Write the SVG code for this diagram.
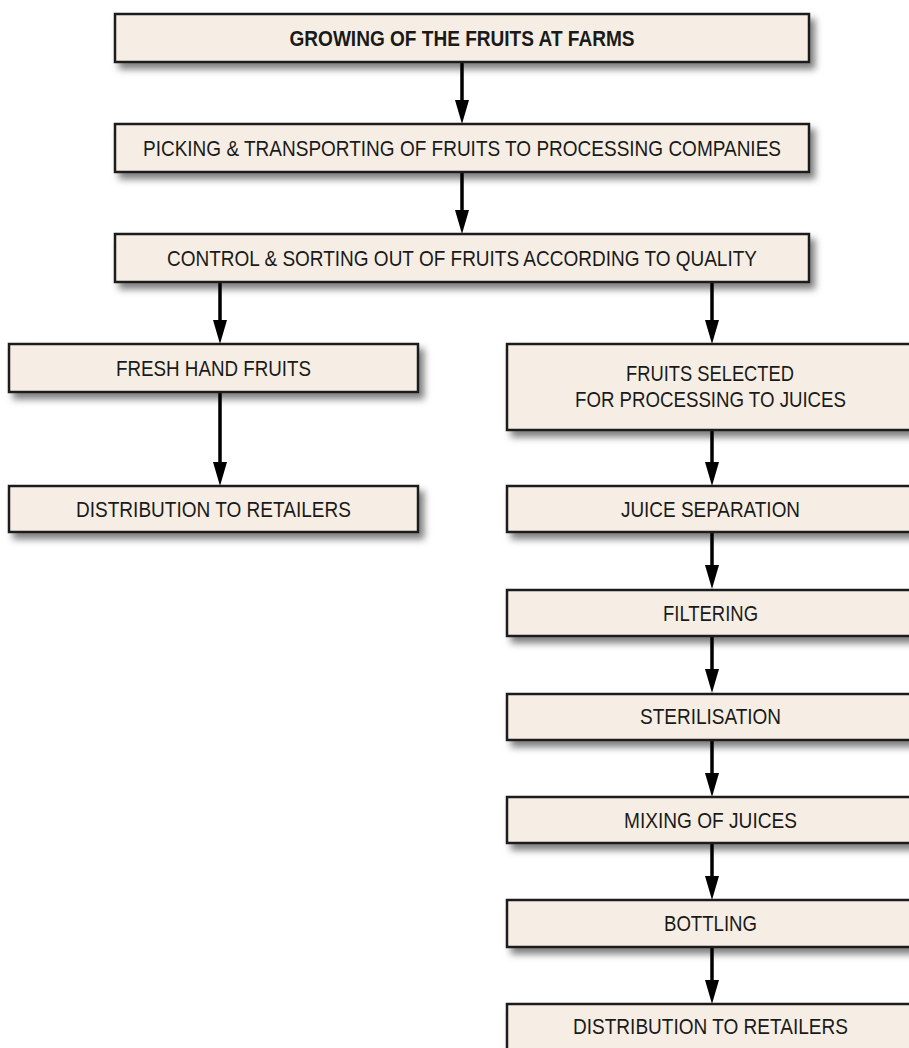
<svg xmlns="http://www.w3.org/2000/svg" width="909" height="1048" viewBox="0 0 909 1048">
<defs>
<filter id="sh" x="-5%" y="-30%" width="115%" height="180%">
<feDropShadow dx="5" dy="6" stdDeviation="3.5" flood-color="#000" flood-opacity="0.5"/>
</filter>
<marker id="ah" markerUnits="userSpaceOnUse" markerWidth="24" markerHeight="14" viewBox="0 0 24 14" refX="2" refY="7" orient="auto">
<path d="M0,0 L24,7 L0,14 Z" fill="#000"/>
</marker>
<style>
.box{fill:#f6eee4;stroke:#1a1a1a;stroke-width:2.5;filter:url(#sh)}
.t{font-family:"Liberation Sans",Arial,sans-serif;font-size:22px;fill:#1a1a1a;text-anchor:middle}
.b{font-weight:bold}
.c{stroke:#000;stroke-width:3.5;fill:none;marker-end:url(#ah)}
</style>
</defs>
<rect width="909" height="1048" fill="#fff"/>
<g id="connectors">
<path class="c" d="M462,62 V102"/>
<path class="c" d="M462,172 V212"/>
<path class="c" d="M220,282 V322"/>
<path class="c" d="M712,282 V322"/>
<path class="c" d="M220,392 V464"/>
<path class="c" d="M712,430 V464"/>
<path class="c" d="M712,532 V567"/>
<path class="c" d="M712,636 V671"/>
<path class="c" d="M712,740 V775"/>
<path class="c" d="M712,843 V878"/>
<path class="c" d="M712,947 V982"/>
</g>
<g id="n1"><rect class="box" x="115" y="14" width="694" height="48"/><text class="t b" x="462" y="45.5" textLength="345" lengthAdjust="spacingAndGlyphs">GROWING OF THE FRUITS AT FARMS</text></g>
<g id="n2"><rect class="box" x="115" y="124" width="694" height="48"/><text class="t" x="462" y="155.5" textLength="638" lengthAdjust="spacingAndGlyphs">PICKING &amp; TRANSPORTING OF FRUITS TO PROCESSING COMPANIES</text></g>
<g id="n3"><rect class="box" x="115" y="234" width="694" height="48"/><text class="t" x="462" y="265.5" textLength="590" lengthAdjust="spacingAndGlyphs">CONTROL &amp; SORTING OUT OF FRUITS ACCORDING TO QUALITY</text></g>
<g id="n4"><rect class="box" x="9" y="344" width="409" height="48"/><text class="t" x="213.5" y="375.5" textLength="195" lengthAdjust="spacingAndGlyphs">FRESH HAND FRUITS</text></g>
<g id="n5"><rect class="box" x="9" y="486" width="409" height="46"/><text class="t" x="213.5" y="516.5" textLength="275" lengthAdjust="spacingAndGlyphs">DISTRIBUTION TO RETAILERS</text></g>
<g id="n6"><rect class="box" x="507" y="344" width="407" height="86"/><text class="t" x="710" y="380.5" textLength="168" lengthAdjust="spacingAndGlyphs">FRUITS SELECTED</text><text class="t" x="710.5" y="406.5" textLength="271" lengthAdjust="spacingAndGlyphs">FOR PROCESSING TO JUICES</text></g>
<g id="n7"><rect class="box" x="507" y="486" width="407" height="46"/><text class="t" x="710.5" y="516.5" textLength="179" lengthAdjust="spacingAndGlyphs">JUICE SEPARATION</text></g>
<g id="n8"><rect class="box" x="507" y="590" width="407" height="46"/><text class="t" x="710.5" y="620.5" textLength="95" lengthAdjust="spacingAndGlyphs">FILTERING</text></g>
<g id="n9"><rect class="box" x="507" y="694" width="407" height="46"/><text class="t" x="710.5" y="723.5" textLength="141" lengthAdjust="spacingAndGlyphs">STERILISATION</text></g>
<g id="n10"><rect class="box" x="507" y="797" width="407" height="46"/><text class="t" x="710.5" y="827.5" textLength="173" lengthAdjust="spacingAndGlyphs">MIXING OF JUICES</text></g>
<g id="n11"><rect class="box" x="507" y="900" width="407" height="47"/><text class="t" x="710.5" y="930.5" textLength="93" lengthAdjust="spacingAndGlyphs">BOTTLING</text></g>
<g id="n12"><rect class="box" x="507" y="1004" width="407" height="50"/><text class="t" x="710.5" y="1033.5" textLength="275" lengthAdjust="spacingAndGlyphs">DISTRIBUTION TO RETAILERS</text></g>
</svg>
